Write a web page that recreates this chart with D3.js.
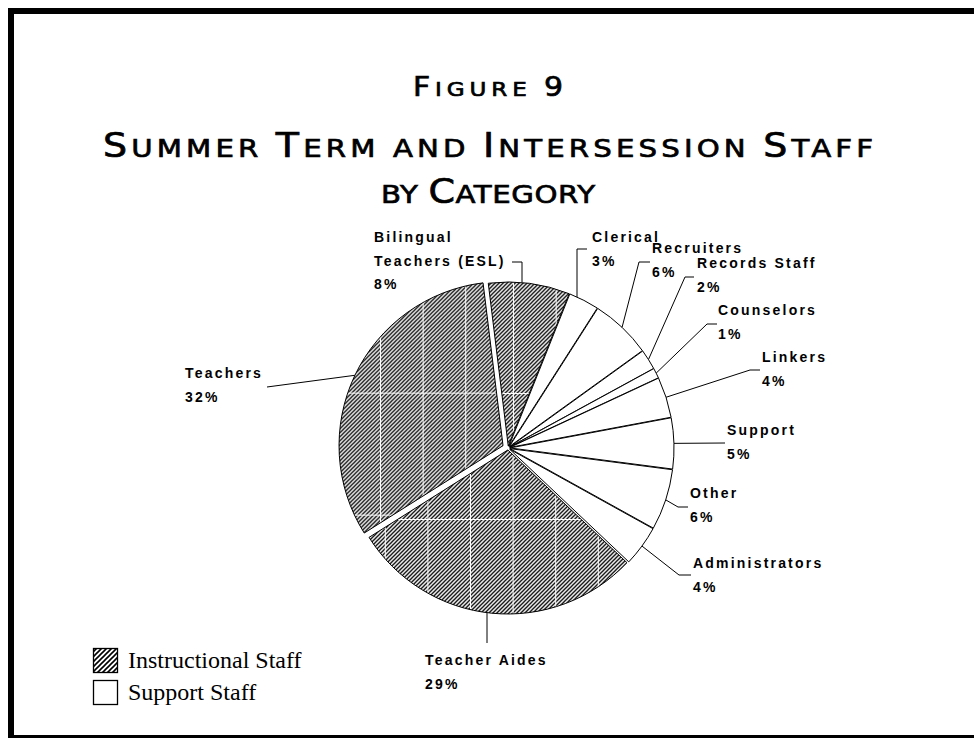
<!DOCTYPE html>
<html>
<head>
<meta charset="utf-8">
<script src="https://cdn.jsdelivr.net/npm/d3@7/dist/d3.min.js"></script>
<style>
  html, body { margin: 0; padding: 0; background: #fff; }
  svg { display: block; }
</style>
</head>
<body>
<svg id="chart" width="974" height="738"></svg>
<script>
// ---------- DATA ----------
const categories = ["Bilingual Teachers (ESL)", "Clerical", "Recruiters", "Records Staff",
  "Counselors", "Linkers", "Support", "Other", "Administrators", "Teacher Aides", "Teachers"];
const values = [8, 3, 6, 2, 1, 4, 5, 6, 4, 29, 32];
const staffGroup = ["Instructional", "Support", "Support", "Support", "Support", "Support",
  "Support", "Support", "Support", "Instructional", "Instructional"];
const legendLabels = ["Instructional Staff", "Support Staff"];
const titleLines = ["Figure 9", "Summer Term and Intersession Staff", "by Category"];

// ---------- LAYOUT (positions only) ----------
const W = 974, H = 738;
const cx = 508, cy = 448, R = 164;
const startDeg = -7;
// text x, first baseline y, words on first line, elbow x/y, leader end x, vertical leader flag
const labelLayout = {
  "Bilingual Teachers (ESL)": {tx: 374, ty: 242, brk: 1, ex: 522, ey: 262, hx: 512, vert: true},
  "Clerical":       {tx: 592, ty: 242, brk: 0, ex: 577, ey: 249, hx: 587, vert: true},
  "Recruiters":     {tx: 652, ty: 253, brk: 0, ex: 639, ey: 262, hx: 650},
  "Records Staff":  {tx: 697, ty: 268, brk: 0, ex: 685, ey: 277, hx: 694},
  "Counselors":     {tx: 718, ty: 315, brk: 0, ex: 707, ey: 324, hx: 717},
  "Linkers":        {tx: 762, ty: 362, brk: 0, ex: 750, ey: 370, hx: 760},
  "Support":        {tx: 727, ty: 435, brk: 0, ex: 725, ey: 443, hx: 725},
  "Other":          {tx: 690, ty: 498, brk: 0, ex: 678, ey: 507, hx: 688},
  "Administrators": {tx: 693, ty: 568, brk: 0, ex: 679, ey: 575, hx: 691},
  "Teacher Aides":  {tx: 425, ty: 665, brk: 0, ex: 487, ey: 643, hx: 487, vert: true},
  "Teachers":       {tx: 185, ty: 378, brk: 0, ex: 267, ey: 387, hx: 267}
};
const explode = d => d.data.name === "Teachers" ? 5.5 : 2;

const svg = d3.select("#chart");
svg.append("rect").attr("width", W).attr("height", H).attr("fill", "#fff");

// ---------- PATTERNS ----------
const defs = svg.append("defs");
const hatch = defs.append("pattern").attr("id", "hatch")
  .attr("patternUnits", "userSpaceOnUse").attr("width", 4).attr("height", 4);
hatch.append("rect").attr("width", 4).attr("height", 4).attr("fill", "#fff");
hatch.append("path").attr("d", "M-1,1 l2,-2 M0,4 l4,-4 M3,5 l2,-2")
  .attr("stroke", "#000").attr("stroke-width", 1.3);

// white tiling seams seen in the original hatch fill (pattern space is the pie group's)
const grid = defs.append("pattern").attr("id", "grid")
  .attr("patternUnits", "userSpaceOnUse").attr("x", 385 - cx).attr("y", 395 - cy)
  .attr("width", 42.6).attr("height", 122);
grid.append("rect").attr("x", 0).attr("y", 0).attr("width", 1).attr("height", 122).attr("fill", "#fff");
grid.append("rect").attr("x", 0).attr("y", 0).attr("width", 42.6).attr("height", 1).attr("fill", "#fff");

const hatchL = defs.append("pattern").attr("id", "hatchL")
  .attr("patternUnits", "userSpaceOnUse").attr("width", 5).attr("height", 5);
hatchL.append("rect").attr("width", 5).attr("height", 5).attr("fill", "#fff");
hatchL.append("path").attr("d", "M-1,1 l2,-2 M0,5 l5,-5 M4,6 l2,-2")
  .attr("stroke", "#000").attr("stroke-width", 1.6);

// ---------- FRAME ----------
svg.append("rect").attr("x", 11).attr("y", 11).attr("width", 967).attr("height", 727)
  .attr("fill", "none").attr("stroke", "#000").attr("stroke-width", 6);

// ---------- TITLE (small caps built from tspans) ----------
const titleSpec = [
  {y: 96, size: 26, len: 150},
  {y: 157, size: 33, len: 770},
  {y: 203, size: 33, len: 214}
];
const sx = 1.15;
titleLines.forEach((t, i) => {
  const s = titleSpec[i];
  const txt = svg.append("text")
    .attr("transform", `translate(488,${s.y}) scale(${sx},1)`)
    .attr("x", 0).attr("y", 0)
    .attr("text-anchor", "middle")
    .attr("font-family", "'DejaVu Sans', sans-serif")
    .attr("font-size", s.size)
    .attr("textLength", s.len / sx)
    .attr("lengthAdjust", "spacing")
    .attr("fill", "#000").attr("stroke", "#000").attr("stroke-width", 0.7);
  const runs = [];
  for (const ch of t) {
    const up = ch === ch.toUpperCase() && ch !== ch.toLowerCase();
    const big = up || /[0-9]/.test(ch);
    const last = runs[runs.length - 1];
    if (last && last.big === big) last.s += ch; else runs.push({big, s: ch});
  }
  runs.forEach(r => {
    txt.append("tspan").attr("font-size", r.big ? s.size : s.size * 0.77).text(r.s.toUpperCase());
  });
});

// ---------- PIE ----------
const toRad = Math.PI / 180;
const pie = d3.pie().sort(null).value(d => d.value)
  .startAngle(startDeg * toRad).endAngle((startDeg + 360) * toRad);
const data = categories.map((c, i) => ({name: c, value: values[i], group: staffGroup[i]}));
const arcs = pie(data);
const arc = d3.arc().innerRadius(0).outerRadius(R);

const g = svg.append("g").attr("transform", `translate(${cx},${cy})`);
const mid = d => (d.startAngle + d.endAngle) / 2;
const off = d => { const a = mid(d), o = explode(d); return [o * Math.sin(a), -o * Math.cos(a)]; };

const slices = g.selectAll("g.slice").data(arcs).join("g").attr("class", "slice")
  .attr("transform", d => `translate(${off(d)[0]},${off(d)[1]})`);
slices.append("path").attr("d", arc)
  .attr("fill", d => d.data.group === "Instructional" ? "url(#hatch)" : "#fff");
slices.filter(d => d.data.group === "Instructional").append("path").attr("d", arc)
  .attr("fill", "url(#grid)");
slices.append("path").attr("d", arc)
  .attr("fill", "none").attr("stroke", "#000").attr("stroke-width", 1).attr("stroke-linejoin", "round");

// ---------- LABELS ----------
const lab = svg.append("g");
const lineH = 23.5;
arcs.forEach(d => {
  const L = labelLayout[d.data.name];
  const a = mid(d), o = off(d);
  let ax, ay;
  if (L.vert) {
    ax = L.ex;
    const dy = Math.sqrt(R * R - Math.pow(L.ex - (cx + o[0]), 2));
    ay = (L.ey < cy) ? cy + o[1] - dy : cy + o[1] + dy;
  } else {
    ax = cx + o[0] + R * Math.sin(a);
    ay = cy + o[1] - R * Math.cos(a);
  }
  lab.append("path")
    .attr("d", d3.line()([[ax, ay], [L.ex, L.ey], [L.hx, L.ey]]))
    .attr("fill", "none").attr("stroke", "#000").attr("stroke-width", 1);
  const words = d.data.name.split(" ");
  const lines = L.brk > 0 ? [words.slice(0, L.brk).join(" "), words.slice(L.brk).join(" ")] : [d.data.name];
  lines.push(d.data.value + "%");
  const t = lab.append("text")
    .attr("font-family", "'Liberation Sans', Arial, sans-serif")
    .attr("font-weight", "bold").attr("font-size", 14)
    .attr("letter-spacing", 2.2).attr("fill", "#000");
  lines.forEach((s, i) => {
    t.append("tspan").attr("x", L.tx).attr("y", L.ty + i * lineH).text(s);
  });
});

// ---------- LEGEND ----------
const leg = svg.append("g");
legendLabels.forEach((s, i) => {
  const y = 648 + i * 32;
  leg.append("rect").attr("x", 93.5).attr("y", y + 0.5).attr("width", 24).attr("height", 24)
    .attr("fill", i === 0 ? "url(#hatchL)" : "#fff").attr("stroke", "#000").attr("stroke-width", 1.3);
  leg.append("text").attr("x", 128).attr("y", y + 20)
    .attr("font-family", "'Liberation Serif', 'Times New Roman', serif")
    .attr("font-size", 24).attr("fill", "#000").text(s);
});
</script>
</body>
</html>
